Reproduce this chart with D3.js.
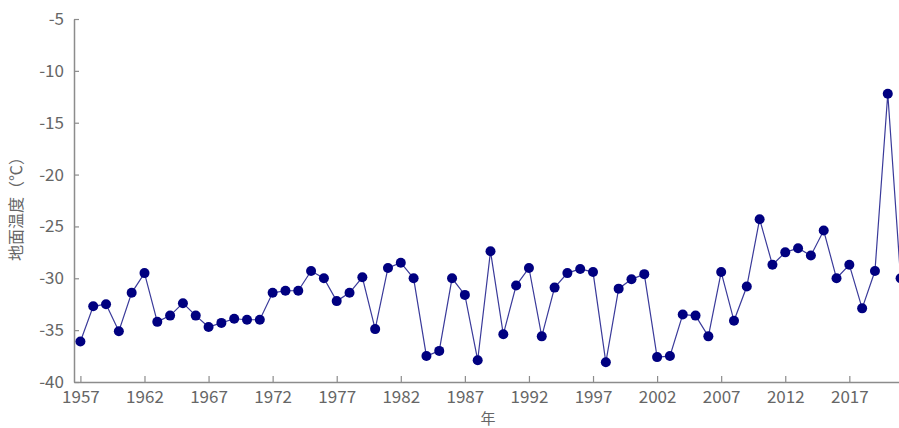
<!DOCTYPE html>
<html>
<head>
<meta charset="utf-8">
<script src="https://cdn.jsdelivr.net/npm/d3@7"></script>
<style>
  body { margin: 0; background: #fff; }
  svg { display: block; font-family: "Noto Sans CJK SC", "Noto Sans", sans-serif; }
</style>
</head>
<body>
<div id="chart"></div>
<script>
// yearly values
var years = d3.range(1957, 2022);
var temps = [
  -36.1, -32.7, -32.5, -35.1, -31.4, -29.5, -34.2, -33.6, -32.4, -33.6,
  -34.7, -34.3, -33.9, -34.0, -34.0, -31.4, -31.2, -31.2, -29.3, -30.0,
  -32.2, -31.4, -29.9, -34.9, -29.0, -28.5, -30.0, -37.5, -37.0, -30.0,
  -31.6, -37.9, -27.4, -35.4, -30.7, -29.0, -35.6, -30.9, -29.5, -29.1,
  -29.4, -38.1, -31.0, -30.1, -29.6, -37.6, -37.5, -33.5, -33.6, -35.6,
  -29.4, -34.1, -30.8, -24.3, -28.7, -27.5, -27.1, -27.8, -25.4, -30.0,
  -28.7, -32.9, -29.3, -12.2, -30.0
];
var yTicks = [-40, -35, -30, -25, -20, -15, -10, -5];
var xTicks = [1957, 1962, 1967, 1972, 1977, 1982, 1987, 1992, 1997, 2002, 2007, 2012, 2017];

var dataset = years.map(function(y, i) { return { year: y, temp: temps[i] }; });

var width = 899, height = 428;

var svg = d3.select("#chart")
    .append("svg")
    .attr("width", width)
    .attr("height", height);

var xScale = d3.scaleLinear()
    .domain([1956.5, 2021.5])
    .range([74, 907]);

var yScale = d3.scaleLinear()
    .domain([-40, -5])
    .range([382, 19]);

// axes, ticks pointing inward
var xAxis = svg.append("g")
    .attr("transform", "translate(0,382)")
    .call(d3.axisBottom(xScale).tickValues(xTicks).tickFormat(function(d) { return String(d); })
        .tickSizeInner(-6).tickSizeOuter(0).tickPadding(9));

var yAxis = svg.append("g")
    .attr("transform", "translate(74,0)")
    .call(d3.axisLeft(yScale).tickValues(yTicks).tickFormat(function(d) { return String(d); })
        .tickSizeInner(-5).tickSizeOuter(0).tickPadding(10));

[xAxis, yAxis].forEach(function(g) {
    g.select(".domain").attr("stroke", "#8c8c8c").attr("stroke-width", 1.5);
    g.selectAll(".tick line").attr("stroke", "#8c8c8c").attr("stroke-width", 1.2);
    g.selectAll(".tick text")
        .attr("fill", "#666")
        .attr("font-size", "17px")
        .attr("font-family", "\"Noto Sans CJK SC\", sans-serif");
});

// axis titles
svg.append("text")
    .attr("transform", "translate(22,205) rotate(-90)")
    .attr("text-anchor", "middle")
    .attr("font-size", "16px")
    .attr("fill", "#666")
    .text("地面温度（℃）");

svg.append("text")
    .attr("x", 488)
    .attr("y", 424)
    .attr("text-anchor", "middle")
    .attr("font-size", "15px")
    .attr("fill", "#666")
    .text("年");

// line
var line = d3.line()
    .x(function(d) { return xScale(d.year); })
    .y(function(d) { return yScale(d.temp); });

svg.append("path")
    .datum(dataset)
    .attr("d", line)
    .attr("fill", "none")
    .attr("stroke", "#3a3a9a")
    .attr("stroke-width", 1.2);

// points
svg.selectAll("circle")
    .data(dataset)
    .enter()
    .append("circle")
    .attr("cx", function(d) { return xScale(d.year); })
    .attr("cy", function(d) { return yScale(d.temp); })
    .attr("r", 5)
    .attr("fill", "#000080");
</script>
</body>
</html>
